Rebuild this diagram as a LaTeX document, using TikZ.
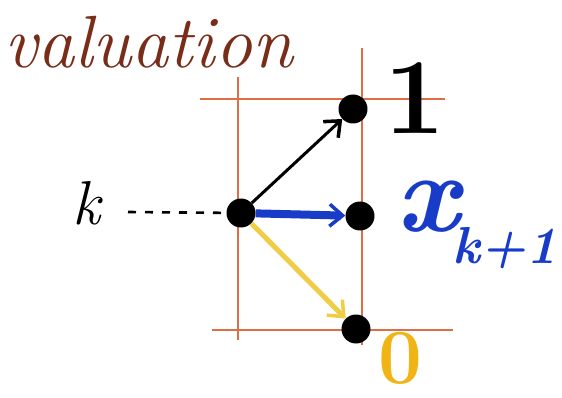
\documentclass[tikz,border=0pt]{standalone}
\usetikzlibrary{arrows.meta}
\definecolor{gridorange}{RGB}{222,110,70}
\definecolor{brownink}{RGB}{120,45,25}
\definecolor{blueink}{RGB}{25,60,200}
\definecolor{yellowink}{RGB}{240,205,70}
\definecolor{zeroink}{RGB}{240,180,20}
\tikzset{
  gridline/.style={draw=gridorange, line width=2pt},
  dot/.style={circle, fill=black, inner sep=0pt, minimum size=29pt},
  arr/.style={-{Straight Barb[length=13pt,width=22pt,line width=3.5pt]}, shorten >=0pt},
  lbl/.style={inner sep=0pt},
}
\begin{document}
\begin{tikzpicture}[x=1pt,y=-1pt]
\useasboundingbox (0,0) rectangle (562,398);
% grid
\draw[gridline] (238,77) -- (238,340);
\draw[gridline] (362,48) -- (362,345);
\draw[gridline] (200,99) -- (445,99);
\draw[gridline] (212,330) -- (453,330);
% nodes
\node[dot] (s) at (241,213) {};
\node[dot] (one) at (353,109) {};
\node[dot] (mid) at (360,216) {};
\node[dot] (zero) at (356,329) {};
\coordinate (kend) at (128,212);
% labels
\node[lbl, text=brownink, font=\fontsize{74}{76}\selectfont\itshape, anchor=base west] (val) at (4,68) {valuation};
\node[lbl, font=\fontsize{62}{62}\selectfont\itshape] (k) at (86,203) {k};
\node[lbl, font=\fontsize{108}{108}\selectfont\bfseries] (l1) at (415,98) {1};
\node[lbl, text=blueink, font=\fontsize{112}{112}\selectfont\itshape\bfseries] (lx) at (428,207) {x};
\node[lbl, text=blueink, font=\fontsize{52}{52}\selectfont\itshape\bfseries] (lk) at (505,248) {k+1};
\node[lbl, text=zeroink, font=\fontsize{78}{78}\selectfont\bfseries] (l0) at (400,358) {0};
% connectors
\draw[black, line width=2.6pt, dash pattern=on 8pt off 9pt] (kend) -- (s);
\draw[arr, black, line width=3pt] (s) -- (one);
\draw[arr, blueink, line width=8pt] (s) -- (mid);
\draw[arr, yellowink, line width=5pt] (s) -- (zero);
\end{tikzpicture}
\end{document}
